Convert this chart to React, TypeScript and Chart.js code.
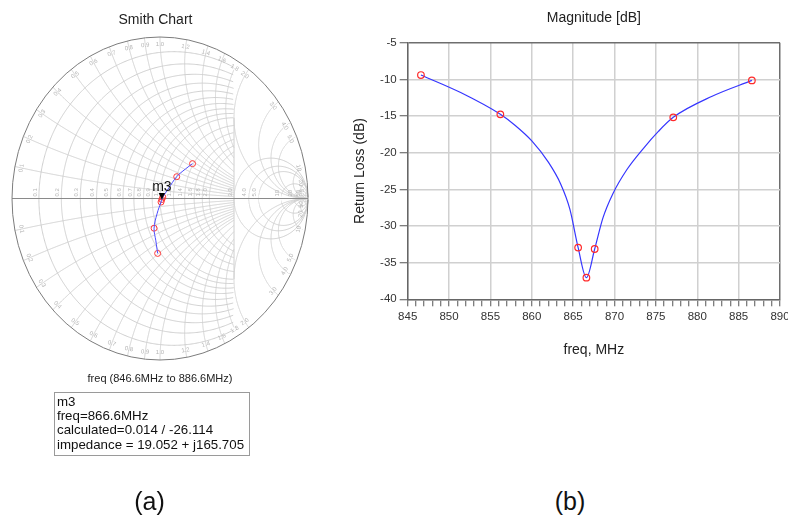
import React, { useEffect, useRef } from "react";
import { Chart, registerables } from "chart.js";

Chart.register(...registerables);

const FONT = "'Liberation Sans', Arial, Helvetica, sans-serif";

// ---------- Right panel: return loss vs frequency ----------
const curveFreqMHz = [846.6, 851.4, 856.2, 858.0, 860.0, 862.0, 863.5, 864.6, 865.6, 866.6, 867.6, 868.6, 869.8, 871.5, 873.5, 875.3, 877.1, 881.8, 886.6];
const curveReturnLossDb = [-9.41, -11.8, -14.77, -16.3, -18.4, -21.3, -24.3, -27.7, -32.95, -37.05, -33.14, -28.9, -25.6, -22.3, -19.4, -17.1, -15.18, -12.3, -10.14];

const markerFreqMHz = [846.6, 856.2, 865.6, 866.6, 867.6, 877.1, 886.6];
const markerReturnLossDb = [-9.41, -14.77, -32.95, -37.05, -33.14, -15.18, -10.14];

const xAxisMin = 845;
const xAxisMax = 890;
const yAxisMin = -40;
const yAxisMax = -5;

// ---------- Left panel: Smith chart (reflection coefficient) ----------
const smithMarkerRe = [-0.016, -0.04, 0.007, 0.0126, 0.019, 0.113, 0.22];
const smithMarkerIm = [-0.34, -0.184, -0.022, -0.0062, 0.009, 0.135, 0.216];
const smithTraceRe = [-0.016, -0.028, -0.04, -0.02, 0.007, 0.0126, 0.019, 0.056, 0.113, 0.171, 0.22];
const smithTraceIm = [-0.34, -0.262, -0.184, -0.095, -0.022, -0.0062, 0.009, 0.06, 0.135, 0.182, 0.216];
const m3Index = 3;

const smithResistances = [0.1, 0.2, 0.3, 0.4, 0.5, 0.6, 0.7, 0.8, 0.9, 1.0, 1.2, 1.4, 1.6, 1.8, 2.0, 3.0, 4.0, 5.0, 10, 20, 50];
const smithReactances = [0.1, 0.2, 0.3, 0.4, 0.5, 0.6, 0.7, 0.8, 0.9, 1.0, 1.2, 1.4, 1.6, 1.8, 2.0, 3.0, 4.0, 5.0, 10, 20, 50];

const markerLines = ["m3", "freq=866.6MHz", "calculated=0.014 / -26.114", "impedance = 19.052 + j165.705"];

function gammaOf(r: number, x: number): [number, number] {
  const den = (r + 1) * (r + 1) + x * x;
  return [(r * r + x * x - 1) / den, (2 * x) / den];
}

function fmt(v: number) {
  return v < 10 ? v.toFixed(1) : String(v);
}

const smithGridPlugin = {
  id: "smithGrid",
  beforeDatasetsDraw(chart: any) {
    const { ctx } = chart;
    const sx = chart.scales.x;
    const sy = chart.scales.y;
    const toPx = (g: [number, number]) => [sx.getPixelForValue(g[0]), sy.getPixelForValue(g[1])];
    const stroke = (pts: [number, number][], keep: (g: [number, number]) => boolean) => {
      ctx.beginPath();
      let pen = false;
      for (const g of pts) {
        if (keep(g)) {
          const [px, py] = toPx(g);
          if (!pen) ctx.moveTo(px, py);
          else ctx.lineTo(px, py);
          pen = true;
        } else pen = false;
      }
      ctx.stroke();
    };
    const all = () => true;
    const left = (g: [number, number]) => g[0] <= 0.5;
    const N = 700;
    ctx.save();
    ctx.lineWidth = 1;
    ctx.strokeStyle = "#cecece";
    for (const r of smithResistances) {
      const pts: [number, number][] = [];
      for (let i = 1; i < N; i++) {
        const phi = -Math.PI / 2 + (Math.PI * i) / N;
        pts.push(gammaOf(r, Math.tan(phi)));
      }
      stroke(pts, r <= 2 ? left : all);
    }
    for (const x of smithReactances) {
      for (const s of [1, -1]) {
        const pts: [number, number][] = [];
        for (let i = 0; i < N; i++) {
          const phi = ((Math.PI / 2) * i) / N;
          pts.push(gammaOf(Math.tan(phi), s * x));
        }
        stroke(pts, x < 2 ? left : all);
      }
    }
    stroke([[0.5, -0.5], [0.5, 0.5]], all);
    // real axis
    ctx.strokeStyle = "#8a8a8a";
    stroke([[-1, 0], [1, 0]], all);
    // rim
    const [cx, cy] = toPx([0, 0]);
    const [rxp] = toPx([1, 0]);
    const [, ryp] = toPx([0, 1]);
    ctx.strokeStyle = "#7c7c7c";
    ctx.beginPath();
    ctx.ellipse(cx, cy, rxp - cx, cy - ryp, 0, 0, Math.PI * 2);
    ctx.stroke();

    // labels
    ctx.font = `6px ${FONT}`;
    ctx.fillStyle = "#b5b5b5";
    for (const r of smithResistances) {
      const [px, py] = toPx([(r - 1) / (r + 1), 0]);
      ctx.save();
      ctx.translate(px - 1, py - 2);
      ctx.rotate(-Math.PI / 2);
      ctx.textAlign = "left";
      ctx.textBaseline = "bottom";
      ctx.fillText(fmt(r), 0, 0);
      ctx.restore();
    }
    for (const x of smithReactances) {
      for (const s of [1, -1]) {
        const g = gammaOf(0, s * x);
        const [px, py] = toPx([g[0] * 0.955, g[1] * 0.955]);
        let ang = Math.atan2(py - cy, px - cx) + Math.PI / 2;
        while (ang > Math.PI / 2) ang -= Math.PI;
        while (ang < -Math.PI / 2) ang += Math.PI;
        ctx.save();
        ctx.translate(px, py);
        ctx.rotate(ang);
        ctx.textAlign = "center";
        ctx.textBaseline = "middle";
        ctx.fillText(fmt(x), 0, 0);
        ctx.restore();
      }
    }
    ctx.restore();
  },
};

const m3Plugin = {
  id: "m3Marker",
  afterDatasetsDraw(chart: any) {
    const el = chart.getDatasetMeta(1).data[m3Index];
    if (!el) return;
    const { ctx } = chart;
    const x = el.x;
    const y = el.y;
    ctx.save();
    ctx.fillStyle = "#000";
    ctx.beginPath();
    ctx.moveTo(x, y);
    ctx.lineTo(x - 3.2, y - 6.5);
    ctx.lineTo(x + 3.2, y - 6.5);
    ctx.closePath();
    ctx.fill();
    ctx.font = `14px ${FONT}`;
    ctx.textAlign = "center";
    ctx.textBaseline = "alphabetic";
    ctx.fillStyle = "#111";
    ctx.fillText("m3", x, y - 8.5);
    ctx.restore();
  },
};

function SmithPanel() {
  const ref = useRef<HTMLCanvasElement>(null);
  useEffect(() => {
    const chart = new Chart(ref.current as HTMLCanvasElement, {
      type: "scatter",
      data: {
        datasets: [
          {
            data: smithTraceRe.map((re, i) => ({ x: re, y: smithTraceIm[i] })),
            showLine: true,
            borderColor: "#4a4aff",
            borderWidth: 1,
            pointRadius: 0,
            tension: 0.4,
            fill: false,
          } as any,
          {
            data: smithMarkerRe.map((re, i) => ({ x: re, y: smithMarkerIm[i] })),
            showLine: false,
            pointRadius: 3,
            pointBorderColor: "#ff3a3a",
            pointBackgroundColor: "rgba(0,0,0,0)",
            pointBorderWidth: 1,
            borderColor: "#ff3a3a",
            backgroundColor: "rgba(0,0,0,0)",
          } as any,
        ],
      },
      options: {
        animation: false,
        responsive: false,
        maintainAspectRatio: false,
        layout: { padding: { left: 12, right: 22, top: 37, bottom: 20 } },
        scales: {
          x: { type: "linear", min: -1, max: 1, display: false },
          y: { type: "linear", min: -1, max: 1, display: false },
        },
        plugins: { legend: { display: false }, tooltip: { enabled: false } },
      },
      plugins: [smithGridPlugin, m3Plugin],
    });
    return () => chart.destroy();
  }, []);
  return (
    <canvas
      ref={ref}
      width={330}
      height={380}
      style={{ position: "absolute", left: 0, top: 0, width: 330, height: 380 }}
    />
  );
}

function ReturnLossPanel() {
  const ref = useRef<HTMLCanvasElement>(null);
  useEffect(() => {
    const tickFont = { size: 11.5, family: FONT };
    const chart = new Chart(ref.current as HTMLCanvasElement, {
      type: "line",
      data: {
        datasets: [
          {
            type: "line",
            data: curveFreqMHz.map((f, i) => ({ x: f, y: curveReturnLossDb[i] })),
            borderColor: "#3636ff",
            borderWidth: 1.2,
            pointRadius: 0,
            cubicInterpolationMode: "monotone",
            fill: false,
            order: 2,
          } as any,
          {
            type: "scatter",
            data: markerFreqMHz.map((f, i) => ({ x: f, y: markerReturnLossDb[i] })),
            showLine: false,
            pointRadius: 3.3,
            pointBorderColor: "#ff2a2a",
            pointBackgroundColor: "rgba(0,0,0,0)",
            pointBorderWidth: 1.2,
            borderColor: "#ff2a2a",
            backgroundColor: "rgba(0,0,0,0)",
            order: 1,
          } as any,
        ],
      },
      options: {
        animation: false,
        responsive: false,
        maintainAspectRatio: false,
        layout: { padding: { left: 0, right: 20, top: 0, bottom: 0 } },
        scales: {
          x: {
            type: "linear",
            min: xAxisMin,
            max: xAxisMax,
            afterFit: (s: any) => {
              s.height = 60.7;
            },
            ticks: {
              stepSize: 1,
              autoSkip: false,
              maxRotation: 0,
              minRotation: 0,
              padding: 4,
              color: "#333",
              font: tickFont,
              callback: (v: any) => (Number(v) % 5 === 0 ? String(v) : ""),
            },
            grid: {
              color: (c: any) => {
                const v = c.tick ? c.tick.value : 0;
                if (v === xAxisMax) return "#6e6e6e";
                return v % 5 === 0 ? "#d0d0d0" : "rgba(0,0,0,0)";
              },
              lineWidth: 1.5,
              tickLength: 7,
              tickColor: "#555",
              tickWidth: 1,
            },
            border: { color: "#666", width: 1.5 },
            title: {
              display: true,
              text: "freq, MHz",
              color: "#222",
              font: { size: 14, family: FONT },
              padding: { top: 0, bottom: 1.6 },
            },
          },
          y: {
            type: "linear",
            min: yAxisMin,
            max: yAxisMax,
            afterFit: (s: any) => {
              s.width = 77.7;
            },
            ticks: { stepSize: 5, padding: 3, color: "#333", font: tickFont },
            grid: {
              color: (c: any) => (c.tick && c.tick.value === yAxisMax ? "#6e6e6e" : "#d0d0d0"),
              lineWidth: 1.5,
              tickLength: 8,
              tickColor: "#555",
              tickWidth: 1,
            },
            border: { color: "#666", width: 1.5 },
            title: {
              display: true,
              text: "Return Loss (dB)",
              color: "#222",
              font: { size: 14, family: FONT },
              padding: { top: 22, bottom: 0 },
            },
          },
        },
        plugins: {
          legend: { display: false },
          tooltip: { enabled: false },
          title: {
            display: true,
            text: "Magnitude [dB]",
            fullSize: false,
            color: "#222",
            font: { size: 14, family: FONT, weight: "normal" },
            padding: { top: 10, bottom: 15.9 },
          },
        },
      },
    });
    return () => chart.destroy();
  }, []);
  return (
    <canvas
      ref={ref}
      width={470}
      height={360}
      style={{ position: "absolute", left: 330, top: 0, width: 470, height: 360 }}
    />
  );
}

export default function App() {
  return (
    <div
      style={{
        position: "absolute",
        left: 0,
        top: 0,
        width: 788,
        height: 518,
        overflow: "hidden",
        background: "#fff",
        fontFamily: FONT,
        color: "#111",
      }}
    >
      <SmithPanel />
      <ReturnLossPanel />
      <div
        style={{
          position: "absolute",
          left: 55.5,
          width: 200,
          top: 10,
          lineHeight: "18px",
          fontSize: 14,
          textAlign: "center",
          color: "#222",
        }}
      >
        Smith Chart
      </div>
      <div
        style={{
          position: "absolute",
          left: 60,
          width: 200,
          top: 371,
          lineHeight: "14px",
          fontSize: 11,
          textAlign: "center",
          color: "#222",
          whiteSpace: "nowrap",
        }}
      >
        freq (846.6MHz to 886.6MHz)
      </div>
      <div
        style={{
          position: "absolute",
          left: 54,
          top: 392,
          width: 192,
          height: 60,
          border: "1px solid #9a9a9a",
          paddingTop: 1.5,
          paddingLeft: 2,
          boxSizing: "content-box",
          fontSize: 13.3,
          lineHeight: "14.4px",
          color: "#111",
          whiteSpace: "nowrap",
        }}
      >
        {markerLines.map((t) => (
          <div key={t}>{t}</div>
        ))}
      </div>
      <div
        style={{
          position: "absolute",
          left: 99.5,
          width: 100,
          top: 486,
          lineHeight: "30px",
          fontSize: 25,
          textAlign: "center",
          color: "#111",
        }}
      >
        (a)
      </div>
      <div
        style={{
          position: "absolute",
          left: 520,
          width: 100,
          top: 486,
          lineHeight: "30px",
          fontSize: 25,
          textAlign: "center",
          color: "#111",
        }}
      >
        (b)
      </div>
    </div>
  );
}
